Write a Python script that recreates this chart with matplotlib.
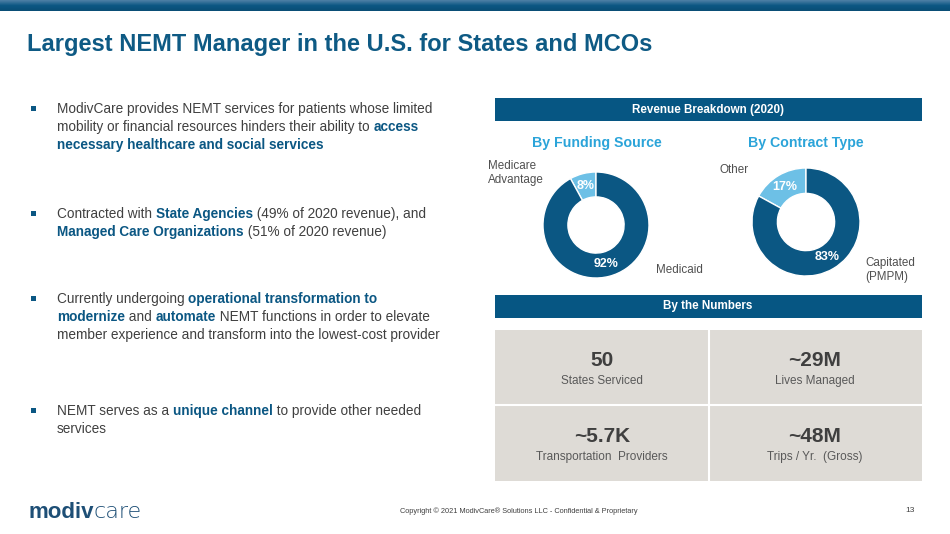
import matplotlib.pyplot as plt
import numpy as np
from matplotlib.patches import Rectangle
from matplotlib.colors import LinearSegmentedColormap

plt.rcParams['font.family'] = ['Liberation Sans', 'DejaVu Sans']

# --- data ---
title = "Largest NEMT Manager in the U.S. for States and MCOs"

funding_labels = ["Medicare\nAdvantage", "Medicaid"]
funding_values = [8, 92]
contract_labels = ["Other", "Capitated\n(PMPM)"]
contract_values = [17, 83]

number_values = ["50", "~29M", "~5.7K", "~48M"]
number_labels = ["States Serviced", "Lives Managed", "Transportation  Providers", "Trips / Yr.  (Gross)"]

bullets = [
    [[("ModivCare provides NEMT services for patients whose limited", False)],
     [("mobility or financial resources hinders their ability to ", False), ("access", True)],
     [("necessary healthcare and social services", True)]],
    [[("Contracted with ", False), ("State Agencies", True), (" (49% of 2020 revenue), and", False)],
     [("Managed Care Organizations", True), (" (51% of 2020 revenue)", False)]],
    [[("Currently undergoing ", False), ("operational transformation to", True)],
     [("modernize", True), (" and ", False), ("automate", True), (" NEMT functions in order to elevate", False)],
     [("member experience and transform into the lowest-cost provider", False)]],
    [[("NEMT serves as a ", False), ("unique channel", True), (" to provide other needed", False)],
     [("services", False)]],
]
bullet_tops = [109, 214, 299, 411]

# --- colours ---
navy = "#0B5783"
light = "#6DC0E6"
sky = "#2BA4D9"
grey_txt = "#404040"
cell_bg = "#DEDBD6"

W, H = 950, 534
fig = plt.figure(figsize=(W / 100, H / 100), dpi=100)
ax = fig.add_axes([0, 0, 1, 1])

# top gradient bar
grad = np.linspace(0, 1, 20).reshape(-1, 1)
cm = LinearSegmentedColormap.from_list("bar", ["#4D7FA5", "#0C5783", "#0A4E76"])
ax.imshow(grad, cmap=cm, extent=(0, W, 11, 0), aspect='auto')
ax.set_xlim(0, W)
ax.set_ylim(H, 0)
ax.axis('off')

ax.text(27, 44, title, fontsize=17, fontweight='bold', color="#0E5A84", va='center', ha='left')

# bullets
line_h = 18
for top, lines in zip(bullet_tops, bullets):
    ax.add_patch(Rectangle((31, top - 3), 5, 5, color=navy, lw=0))
    for i, runs in enumerate(lines):
        y = top + i * line_h
        prev = None
        for txt, bold in runs:
            kw = dict(fontsize=9.85, color=navy if bold else grey_txt,
                      fontweight='bold' if bold else 'normal')
            if prev is None:
                prev = ax.text(57, y, txt, va='center', ha='left', **kw)
            else:
                prev = ax.annotate(txt, xy=(1, 0.5), xycoords=prev, va='center', ha='left', **kw)

# header bars
for y0, label in [(98, "Revenue Breakdown (2020)"), (295, "By the Numbers")]:
    ax.add_patch(Rectangle((495, y0), 427, 23, color="#065683", lw=0))
    ax.text(708, y0 + 11.5, label, color='white', fontsize=8.4, fontweight='bold', ha='center', va='center')

ax.text(597, 143, "By Funding Source", color=sky, fontsize=10.2, fontweight='bold', ha='center', va='center')
ax.text(806, 143, "By Contract Type", color=sky, fontsize=10.2, fontweight='bold', ha='center', va='center')


def donut(cx, cy, r, values):
    dax = fig.add_axes([(cx - r) / W, (H - cy - r) / H, 2 * r / W, 2 * r / H])
    dax.pie(values, colors=[light, navy], startangle=90, counterclock=True, radius=1,
            wedgeprops=dict(width=0.47, edgecolor='white', linewidth=1),
            autopct=lambda p: "%d%%" % round(p), pctdistance=0.76,
            textprops=dict(color='white', fontsize=9, fontweight='bold'))
    dax.set_xlim(-1, 1)
    dax.set_ylim(-1, 1)
    dax.set_aspect('equal')
    dax.axis('off')


donut(596, 225, 53, funding_values)
donut(806, 222, 54, contract_values)

ax.text(488, 173, funding_labels[0], color="#505050", fontsize=8.4, ha='left', va='center', linespacing=1.25)
ax.text(656, 270, funding_labels[1], color="#505050", fontsize=8.4, ha='left', va='center')
ax.text(719, 170, contract_labels[0], color="#505050", fontsize=8.4, ha='left', va='center')
ax.text(865, 270, contract_labels[1], color="#505050", fontsize=8.4, ha='left', va='center', linespacing=1.25)

# numbers grid
ax.add_patch(Rectangle((495, 330), 427, 151, color=cell_bg, lw=0))
ax.plot([709, 709], [330, 481], color='white', lw=1.5)
ax.plot([495, 922], [405, 405], color='white', lw=1.5)
centers = [(602, 361), (815, 361), (602, 437), (815, 437)]
for (cx, cy), v, lab in zip(centers, number_values, number_labels):
    ax.text(cx, cy, v, color="#3F3F3F", fontsize=15, fontweight='bold', ha='center', va='center')
    ax.text(cx, cy + 20, lab, color="#595959", fontsize=8.5, ha='center', va='center')

# footer
logo = ax.text(28, 512, "modiv", color="#1E4F76", fontsize=16, fontweight='bold', ha='left', va='center')
ax.annotate("care", xy=(1, 0.5), xycoords=logo, color="#1E4F76", fontsize=16, ha='left', va='center',
            fontfamily=['DejaVu Sans'], fontweight='light')
ax.text(519, 511, "Copyright \u00a9 2021 ModivCare\u00ae Solutions LLC - Confidential & Proprietary",
        color="#404040", fontsize=5.3, ha='center', va='center')
ax.text(910, 510, "13", color="#404040", fontsize=6, ha='center', va='center')

fig.savefig("out.png", dpi=100)
